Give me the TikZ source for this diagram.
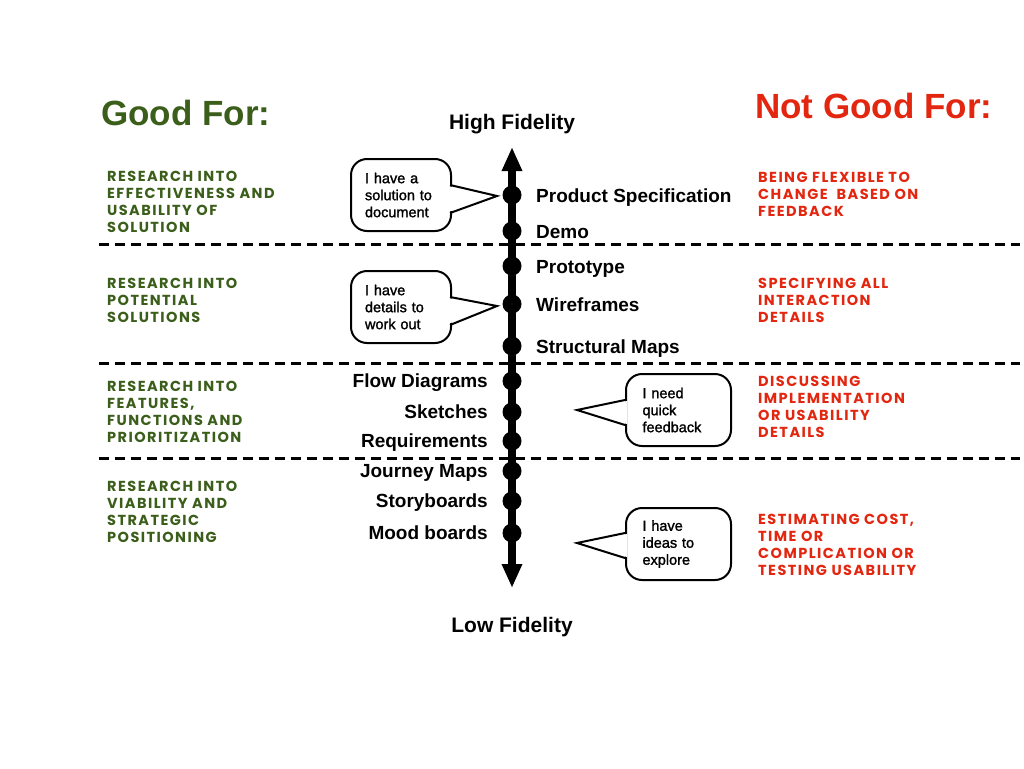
\documentclass[tikz,border=0pt]{standalone}
\usepackage{fontspec}
\setmainfont{Liberation Sans}
\newfontfamily\handfont{Poppins}[LetterSpace=10]
\newfontfamily\bubblefont{Liberation Sans}[FakeBold=1.5]
\usetikzlibrary{arrows.meta}
\definecolor{goodgreen}{HTML}{3B5E1B}
\definecolor{badred}{HTML}{E3260F}
\begin{document}
\begin{tikzpicture}[x=1pt,y=-1pt,
  title/.style={font=\bfseries\fontsize{35}{40}\selectfont, anchor=base west, inner sep=0},
  endlabel/.style={font=\bfseries\fontsize{21}{24}\selectfont, anchor=base, inner sep=0},
  rlabel/.style={font=\bfseries\fontsize{19}{22}\selectfont, anchor=base west, inner sep=0},
  llabel/.style={font=\bfseries\fontsize{19}{22}\selectfont, anchor=base east, inner sep=0},
  dot/.style={circle, fill=black, minimum size=19pt, inner sep=0},
  note/.style={font=\handfont\bfseries\fontsize{14.5}{16.7}\selectfont, align=left, anchor=base west, inner sep=0},
  goodnote/.style={note, text=goodgreen},
  badnote/.style={note, text=badred},
  sep/.style={line width=3pt, dash pattern=on 10pt off 6pt},
  bubble/.style={draw, line width=2pt, rounded corners=16pt, fill=white, minimum height=72pt,
    align=left, text width=72pt, inner sep=0, font=\bubblefont\fontsize{14.5}{17}\selectfont, anchor=north west},
  pointer/.style={line width=2pt, line join=miter}
]
\useasboundingbox (0,0) rectangle (1024,768);

% titles
\node[title, text=goodgreen] (good) at (101,125) {Good For:};
\node[title, text=badred] (notgood) at (755,118) {Not Good For:};
\node[endlabel] (high) at (512,129) {High Fidelity};
\node[endlabel] (low) at (512,632) {Low Fidelity};

% dashed separators
\coordinate (s1a) at (99,244);  \coordinate (s1b) at (1020,244);
\coordinate (s2a) at (99,363);  \coordinate (s2b) at (1020,363);
\coordinate (s3a) at (99,458);  \coordinate (s3b) at (1020,458);
\draw[sep] (s1a) -- (s1b);
\draw[sep] (s2a) -- (s2b);
\draw[sep] (s3a) -- (s3b);

% axis
\coordinate (hi) at (512,147);
\coordinate (lo) at (512,588);
\draw[line width=8pt, {Triangle[width=19pt,length=24pt]}-{Triangle[width=19pt,length=24pt]}] (lo) -- (hi);

% dots and labels
\node[dot] (d1) at (512,195) {};
\node[dot] (d2) at (512,231) {};
\node[dot] (d3) at (512,266) {};
\node[dot] (d4) at (512,304) {};
\node[dot] (d5) at (512,346) {};
\node[dot] (d6) at (512,381) {};
\node[dot] (d7) at (512,412) {};
\node[dot] (d8) at (512,441) {};
\node[dot] (d9) at (512,471) {};
\node[dot] (d10) at (512,501) {};
\node[dot] (d11) at (512,533) {};

\node[rlabel] (l1) at (536,202) {Product Specification};
\node[rlabel] (l2) at (536,238) {Demo};
\node[rlabel] (l3) at (536,273) {Prototype};
\node[rlabel] (l4) at (536,311) {Wireframes};
\node[rlabel] (l5) at (536,353) {Structural Maps};
\node[llabel] (l6) at (488,387) {Flow Diagrams};
\node[llabel] (l7) at (488,418) {Sketches};
\node[llabel] (l8) at (488,447) {Requirements};
\node[llabel] (l9) at (488,477) {Journey Maps};
\node[llabel] (l10) at (488,507) {Storyboards};
\node[llabel] (l11) at (488,539) {Mood boards};

% green notes (anchored at the baseline of the last line)
\node[goodnote] (g1) at (107,232) {RESEARCH INTO\\EFFECTIVENESS AND\\USABILITY OF\\SOLUTION};
\node[goodnote] (g2) at (107,322) {RESEARCH INTO\\POTENTIAL\\SOLUTIONS};
\node[goodnote] (g3) at (107,442) {RESEARCH INTO\\FEATURES,\\FUNCTIONS AND\\PRIORITIZATION};
\node[goodnote] (g4) at (107,542) {RESEARCH INTO\\VIABILITY AND\\STRATEGIC\\POSITIONING};

% red notes
\node[badnote] (r1) at (758,216) {BEING FLEXIBLE TO\\CHANGE\ \ BASED ON\\FEEDBACK};
\node[badnote] (r2) at (758,322) {SPECIFYING ALL\\INTERACTION\\DETAILS};
\node[badnote] (r3) at (758,437) {DISCUSSING\\IMPLEMENTATION\\OR USABILITY\\DETAILS};
\node[badnote] (r4) at (758,575) {ESTIMATING COST,\\TIME OR\\COMPLICATION OR\\TESTING USABILITY};

% speech bubbles
\node[bubble, minimum width=100pt] (b1) at (350,158) {I have a\\solution to\\document};
\coordinate (t1) at (497,196);
\fill[white] (448,186) -- (t1) -- (448,212) -- cycle;
\draw[pointer] (450,185) -- (t1) -- (450,213);

\node[bubble, minimum width=100pt] (b2) at (350,270) {I have\\details to\\work out};
\coordinate (t2) at (497,306);
\fill[white] (448,298) -- (t2) -- (448,324) -- cycle;
\draw[pointer] (450,297) -- (t2) -- (450,325);

\node[bubble, minimum width=105pt] (b3) at (625,373) {I need\\quick\\feedback};
\coordinate (t3) at (577,410);
\fill[white] (627,401) -- (t3) -- (627,424) -- cycle;
\draw[pointer] (625,400) -- (t3) -- (625,425);

\node[bubble, minimum width=105pt] (b4) at (625,507) {I have\\ideas to\\explore};
\coordinate (t4) at (577,543);
\fill[white] (627,534) -- (t4) -- (627,557) -- cycle;
\draw[pointer] (625,533) -- (t4) -- (625,558);
\end{tikzpicture}
\end{document}
